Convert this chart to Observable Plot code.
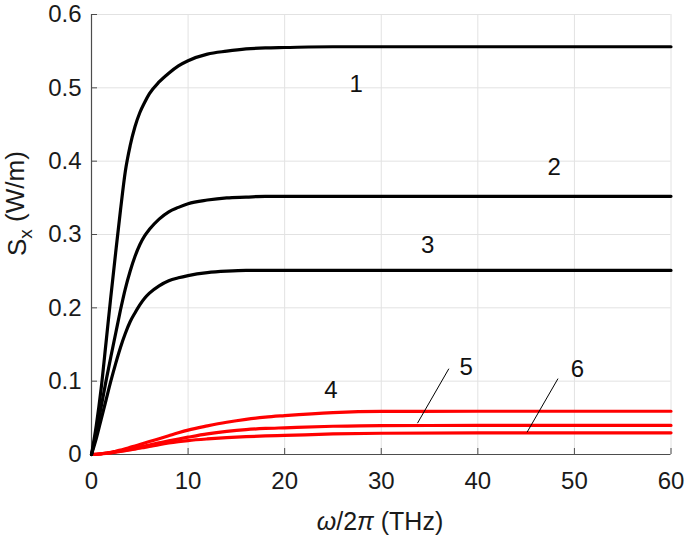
<!DOCTYPE html>
<html>
<head>
<meta charset="utf-8">
<script src="https://cdn.jsdelivr.net/npm/d3@7"></script>
<script src="https://cdn.jsdelivr.net/npm/@observablehq/plot@0.6"></script>
<style>
  html, body { margin: 0; padding: 0; background: #fff; }
</style>
</head>
<body>
<div id="chart"></div>
<script>
// Frequency samples (THz)
const omega = [0, 0.5, 1, 1.5, 2, 2.5, 3, 3.5, 4, 4.5, 5, 5.5, 6, 7, 8, 9, 10, 12, 14, 16, 18, 20, 25, 30, 40, 50, 60];
// Sx (W/m) for each curve
const s1 = [0, 0.04, 0.09, 0.152, 0.215, 0.275, 0.333, 0.386, 0.421, 0.447, 0.466, 0.480, 0.492, 0.508, 0.520, 0.530, 0.537, 0.546, 0.550, 0.553, 0.5545, 0.555, 0.556, 0.556, 0.556, 0.556, 0.556];
const s2 = [0, 0.03, 0.065, 0.1, 0.133, 0.165, 0.197, 0.226, 0.250, 0.270, 0.286, 0.298, 0.307, 0.321, 0.331, 0.337, 0.342, 0.347, 0.350, 0.351, 0.352, 0.352, 0.352, 0.352, 0.352, 0.352, 0.352];
const s3 = [0, 0.022, 0.048, 0.074, 0.1, 0.124, 0.146, 0.165, 0.181, 0.193, 0.204, 0.213, 0.220, 0.230, 0.237, 0.241, 0.244, 0.248, 0.250, 0.251, 0.251, 0.251, 0.251, 0.251, 0.251, 0.251, 0.251];
const s4 = [0, 0.0003, 0.001, 0.002, 0.003, 0.0045, 0.006, 0.0078, 0.0097, 0.0116, 0.0136, 0.0156, 0.0176, 0.0216, 0.0256, 0.0296, 0.0333, 0.039, 0.044, 0.048, 0.051, 0.053, 0.057, 0.0587, 0.059, 0.059, 0.059];
const s5 = [0, 0.0003, 0.0009, 0.0017, 0.0026, 0.0036, 0.0048, 0.006, 0.0073, 0.0086, 0.010, 0.0115, 0.013, 0.0158, 0.0186, 0.0212, 0.0236, 0.0281, 0.0315, 0.0340, 0.0355, 0.0364, 0.0385, 0.0395, 0.0396, 0.0396, 0.0396];
const s6 = [0, 0.0003, 0.0008, 0.0015, 0.0023, 0.0032, 0.0042, 0.0053, 0.0064, 0.0074, 0.0085, 0.0098, 0.011, 0.0135, 0.0157, 0.0175, 0.019, 0.0212, 0.0229, 0.0243, 0.0253, 0.026, 0.028, 0.029, 0.0295, 0.0296, 0.0296];

const blackCurves = ["1", "2", "3"];
const redCurves = ["4", "5", "6"];

// Curve number labels
const labelText = ["1", "2", "3", "4", "5", "6"];
const labelX = [27.4, 47.9, 34.8, 24.8, 38.8, 50.3];
const labelY = [0.505, 0.391, 0.285, 0.0873, 0.119, 0.1155];

// Leader lines for labels 5 and 6
const leaderX1 = [37.0, 48.3];
const leaderY1 = [0.117, 0.1035];
const leaderX2 = [33.75, 45.1];
const leaderY2 = [0.0427, 0.0304];

const xTicks = [0, 10, 20, 30, 40, 50, 60];
const yTicks = [0, 0.1, 0.2, 0.3, 0.4, 0.5, 0.6];

const series = {"1": s1, "2": s2, "3": s3, "4": s4, "5": s5, "6": s6};
const rows = [];
for (const k of Object.keys(series)) {
  series[k].forEach((v, i) => rows.push({curve: k, omega: omega[i], s: v}));
}
const labels = labelText.map((t, i) => ({t, x: labelX[i], y: labelY[i]}));
const leaders = leaderX1.map((x, i) => ({x1: x, y1: leaderY1[i], x2: leaderX2[i], y2: leaderY2[i]}));

const FONT = "'Liberation Sans', Arial, Helvetica, sans-serif";

const chart = Plot.plot({
  width: 685,
  height: 538,
  marginLeft: 91,
  marginRight: 14.5,
  marginTop: 14,
  marginBottom: 84,
  style: {fontFamily: FONT, fontSize: "24px", background: "#fff", color: "#1a1a1a", overflow: "visible"},
  x: {domain: [0, 60]},
  y: {domain: [0, 0.6]},
  marks: [
    Plot.gridX(xTicks, {stroke: "#e2e2e2", strokeOpacity: 1, strokeWidth: 1}),
    Plot.gridY(yTicks, {stroke: "#e2e2e2", strokeOpacity: 1, strokeWidth: 1}),
    Plot.axisX(xTicks, {tickSize: 6, dy: -6, fill: "none", label: null, stroke: "#4d4d4d"}),
    Plot.axisY(yTicks, {tickSize: 6, dx: 6, fill: "none", label: null, stroke: "#4d4d4d"}),
    Plot.axisX(xTicks, {tickSize: 0, tickPadding: 17, label: null, fontSize: 24, fill: "#1a1a1a"}),
    Plot.axisY(yTicks, {tickSize: 0, tickPadding: 10, label: null, fontSize: 24, fill: "#1a1a1a", tickFormat: d => d === 0 ? "0" : d.toFixed(1)}),
    Plot.ruleX([0], {stroke: "#4d4d4d", strokeWidth: 1.2}),
    Plot.ruleY([0], {stroke: "#4d4d4d", strokeWidth: 1.2}),
    Plot.line(rows.filter(d => redCurves.includes(d.curve)), {x: "omega", y: "s", z: "curve", stroke: "#ff0000", strokeWidth: 3.2, curve: "monotone-x"}),
    Plot.line(rows.filter(d => blackCurves.includes(d.curve)), {x: "omega", y: "s", z: "curve", stroke: "#000", strokeWidth: 3.2, curve: "monotone-x"}),
    Plot.link(leaders, {x1: "x1", y1: "y1", x2: "x2", y2: "y2", stroke: "#000", strokeWidth: 1}),
    Plot.text(labels, {x: "x", y: "y", text: "t", fontSize: 24, fill: "#111"})
  ]
});

const svg = d3.select(chart);
// x axis title with italic omega and pi
const xt = svg.append("text")
  .attr("x", 380).attr("y", 530)
  .attr("text-anchor", "middle")
  .attr("font-family", FONT).attr("font-size", 25).attr("fill", "#1a1a1a");
xt.append("tspan").attr("font-style", "italic").text("ω");
xt.append("tspan").text("/2");
xt.append("tspan").attr("font-style", "italic").text("π");
xt.append("tspan").text(" (THz)");

// y axis title with subscript x
const yt = svg.append("text")
  .attr("transform", "translate(26,256) rotate(-90)")
  .attr("text-anchor", "start")
  .attr("font-family", FONT).attr("font-size", 26).attr("fill", "#1a1a1a");
yt.append("tspan").text("S");
yt.append("tspan").attr("font-size", 19).attr("dy", "0.3em").text("x");
yt.append("tspan").attr("dy", "-0.3em").text(" (W/m)");

document.getElementById("chart").appendChild(chart);
</script>
</body>
</html>
